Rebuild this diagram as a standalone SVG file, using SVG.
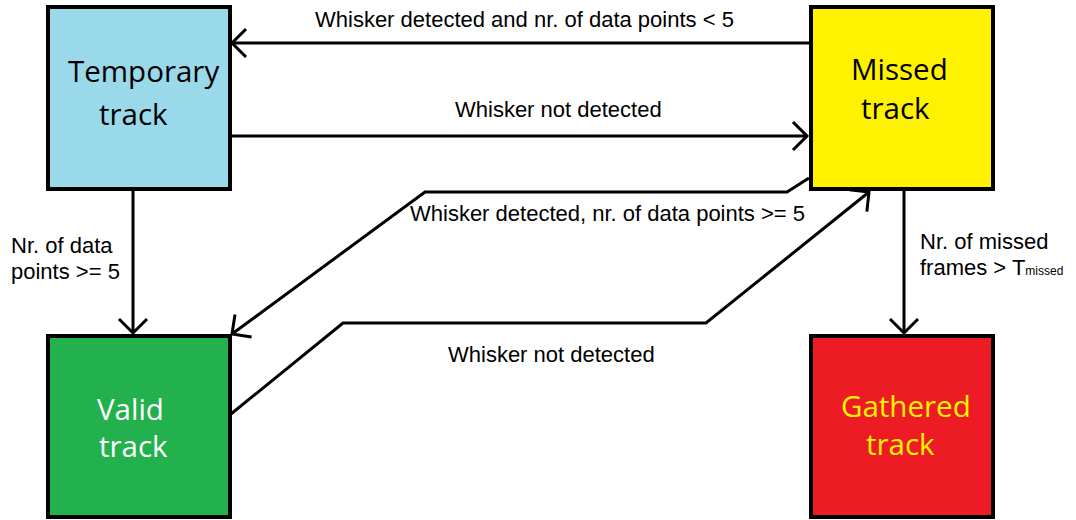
<svg xmlns="http://www.w3.org/2000/svg" width="1076" height="520" viewBox="0 0 1076 520">
<style>
.box{stroke:#000;stroke-width:4}
.bt{font-family:"Open Sans","Noto Sans",sans-serif;font-size:29.5px}
.lb{font-family:"Liberation Sans",Arial,sans-serif;font-size:22px;fill:#000}
.sub{font-size:12px}
.cn{fill:none;stroke:#000;stroke-width:3}
</style>
<defs>
<marker id="arr" markerUnits="userSpaceOnUse" markerWidth="40" markerHeight="40" refX="0" refY="0" viewBox="-20 -20 40 40" orient="auto" overflow="visible">
<path d="M-14,-14 L0,0 L-14,14" fill="none" stroke="#000" stroke-width="3"/>
</marker>
</defs>
<rect width="1076" height="520" fill="#fff"/>
<g id="temporary">
<rect class="box" x="48" y="7" width="182" height="182" fill="#99D9EA"/>
<text class="bt" fill="#000"><tspan x="68" y="82">Temporary</tspan><tspan x="99" y="125">track</tspan></text>
</g>
<g id="missed">
<rect class="box" x="811" y="7" width="182" height="182" fill="#FFF200"/>
<text class="bt" fill="#000"><tspan x="851" y="80">Missed</tspan><tspan x="861" y="119">track</tspan></text>
</g>
<g id="valid">
<rect class="box" x="48" y="336" width="182" height="181" fill="#22B14C"/>
<text class="bt" fill="#fff"><tspan x="97" y="420">Valid</tspan><tspan x="99" y="457">track</tspan></text>
</g>
<g id="gathered">
<rect class="box" x="811" y="336" width="182" height="181" fill="#ED1C24"/>
<text class="bt" fill="#FFF200"><tspan x="841" y="417">Gathered</tspan><tspan x="866" y="455">track</tspan></text>
</g>
<g id="connectors">
<path class="cn" d="M809,43 H232" marker-end="url(#arr)"/>
<path class="cn" d="M230,136 H807" marker-end="url(#arr)"/>
<path class="cn" d="M133,191 V333" marker-end="url(#arr)"/>
<path class="cn" d="M809,178 L787,192 H425 L232,334" marker-end="url(#arr)"/>
<path class="cn" d="M231,414 L343,323 H706 L869,192" marker-end="url(#arr)"/>
<path class="cn" d="M904,191 V333" marker-end="url(#arr)"/>
<text class="lb" x="315" y="27">Whisker detected and nr. of data points &lt; 5</text>
<text class="lb" x="455" y="117">Whisker not detected</text>
<text class="lb" x="410" y="221">Whisker detected, nr. of data points &gt;= 5</text>
<text class="lb" x="448" y="362">Whisker not detected</text>
<text class="lb"><tspan x="11" y="253">Nr. of data</tspan><tspan x="11" y="279">points &gt;= 5</tspan></text>
<text class="lb"><tspan x="920" y="249">Nr. of missed</tspan><tspan x="920" y="275">frames &gt; T<tspan class="sub">missed</tspan></tspan></text>
</g>
</svg>
